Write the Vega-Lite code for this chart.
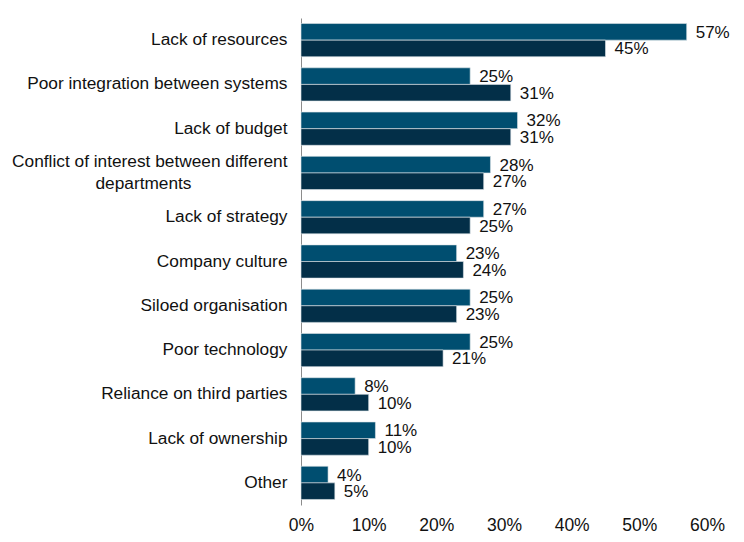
{
  "$schema": "https://vega.github.io/schema/vega-lite/v6.json",
  "width": 406,
  "height": 487,
  "autosize": {"type": "none"},
  "padding": {"left": 301, "top": 18, "right": 37, "bottom": 37},
  "background": "white",
  "config": {
    "view": {"stroke": null},
    "font": "Liberation Sans"
  },
  "data": {
    "values": [
      {"category": "Lack of resources", "series": "Series 1", "value": 0.57},
      {"category": "Lack of resources", "series": "Series 2", "value": 0.45},
      {"category": "Poor integration between systems", "series": "Series 1", "value": 0.25},
      {"category": "Poor integration between systems", "series": "Series 2", "value": 0.31},
      {"category": "Lack of budget", "series": "Series 1", "value": 0.32},
      {"category": "Lack of budget", "series": "Series 2", "value": 0.31},
      {"category": "Conflict of interest between different departments", "series": "Series 1", "value": 0.28},
      {"category": "Conflict of interest between different departments", "series": "Series 2", "value": 0.27},
      {"category": "Lack of strategy", "series": "Series 1", "value": 0.27},
      {"category": "Lack of strategy", "series": "Series 2", "value": 0.25},
      {"category": "Company culture", "series": "Series 1", "value": 0.23},
      {"category": "Company culture", "series": "Series 2", "value": 0.24},
      {"category": "Siloed organisation", "series": "Series 1", "value": 0.25},
      {"category": "Siloed organisation", "series": "Series 2", "value": 0.23},
      {"category": "Poor technology", "series": "Series 1", "value": 0.25},
      {"category": "Poor technology", "series": "Series 2", "value": 0.21},
      {"category": "Reliance on third parties", "series": "Series 1", "value": 0.08},
      {"category": "Reliance on third parties", "series": "Series 2", "value": 0.10},
      {"category": "Lack of ownership", "series": "Series 1", "value": 0.11},
      {"category": "Lack of ownership", "series": "Series 2", "value": 0.10},
      {"category": "Other", "series": "Series 1", "value": 0.04},
      {"category": "Other", "series": "Series 2", "value": 0.05}
    ]
  },
  "encoding": {
    "y": {
      "field": "category",
      "type": "nominal",
      "sort": null,
      "scale": {"paddingInner": 0.25, "paddingOuter": 0.125},
      "axis": {
        "title": null,
        "ticks": false,
        "domain": true,
        "domainColor": "#8c8c8c",
        "domainWidth": 1,
        "labelFontSize": 17.3,
        "labelColor": "#111111",
        "labelPadding": 14,
        "labelLimit": 400,
        "labelLineHeight": 22,
        "labelOffset": {"condition": {"test": "datum.value == 'Conflict of interest between different departments'", "value": -11}, "value": 0},
        "labelExpr": "datum.value == 'Conflict of interest between different departments' ? ['Conflict of interest between different', 'departments\u2800\u2800\u2800\u2800\u2800\u2800\u2800\u2800'] : datum.value"
      }
    },
    "yOffset": {"field": "series", "type": "nominal", "scale": {"paddingInner": 0, "paddingOuter": 0}},
    "x": {
      "field": "value",
      "type": "quantitative",
      "scale": {"domain": [0, 0.6], "nice": false},
      "axis": {
        "title": null,
        "format": ".0%",
        "values": [0, 0.1, 0.2, 0.3, 0.4, 0.5, 0.6],
        "grid": false,
        "ticks": false,
        "domain": false,
        "labelFlush": false,
        "labelFontSize": 17.5,
        "labelColor": "#111111",
        "labelPadding": 11
      }
    }
  },
  "layer": [
    {
      "mark": {"type": "bar", "stroke": "#dfe6ea", "strokeWidth": 0.6},
      "encoding": {
        "color": {
          "field": "series",
          "type": "nominal",
          "scale": {"range": ["#004e70", "#032f48"]},
          "legend": null
        }
      }
    },
    {
      "mark": {"type": "text", "align": "left", "baseline": "middle", "dx": 9, "dy": 1, "fontSize": 17, "color": "#111111"},
      "encoding": {
        "text": {"field": "value", "type": "quantitative", "format": ".0%"}
      }
    }
  ]
}
